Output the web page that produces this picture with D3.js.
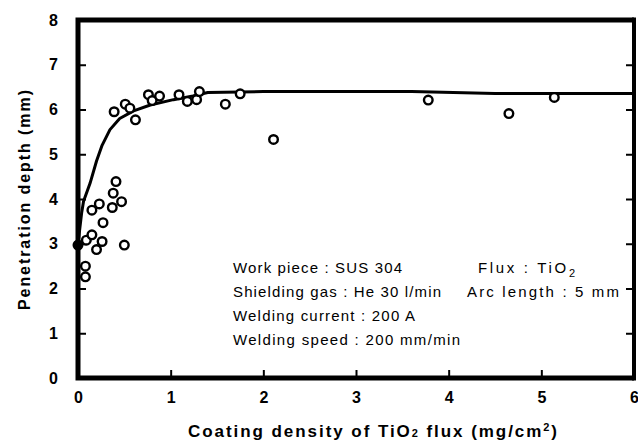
<!DOCTYPE html>
<html>
<head>
<meta charset="utf-8">
<script src="https://cdnjs.cloudflare.com/ajax/libs/d3/7.8.5/d3.min.js"></script>
<style>
  body { margin: 0; background: #fff; }
  text { font-family: Arial, "Liberation Sans", sans-serif; fill: #000; }
</style>
</head>
<body>
<svg id="chart" width="638" height="448"></svg>
<script>
// 測定点 (coating density, penetration depth)
var densityPts = [0, 0.08, 0.08, 0.09, 0.15, 0.2, 0.26, 0.5, 0.27, 0.15, 0.23, 0.37, 0.47, 0.38, 0.41,
                  0.39, 0.51, 0.56, 0.62, 0.76, 0.8, 0.88, 1.09, 1.18, 1.28, 1.31, 1.59,
                  1.75, 2.11, 3.78, 4.65, 5.14];
var depthPts = [2.97, 2.26, 2.5, 3.08, 3.2, 2.87, 3.05, 2.97, 3.47, 3.75, 3.89, 3.81, 3.94, 4.13, 4.39,
                5.95, 6.12, 6.03, 5.77, 6.33, 6.2, 6.3, 6.33, 6.18, 6.22, 6.4, 6.12,
                6.35, 5.33, 6.21, 5.91, 6.27];

// fitted curve
var curveX = [0, 0.04, 0.06, 0.13, 0.2, 0.26, 0.345, 0.45, 0.6, 0.78, 1.03, 1.24, 1.4, 2.0, 3.6, 4.5, 6.0];
var curveY = [3.0, 3.7, 3.95, 4.35, 4.85, 5.2, 5.55, 5.8, 5.97, 6.1, 6.22, 6.3, 6.38, 6.4, 6.4, 6.36, 6.36];

var xTicks = [0, 1, 2, 3, 4, 5, 6];
var yTicks = [0, 1, 2, 3, 4, 5, 6, 7, 8];

var noteLeft = ["Work piece : SUS 304", "Shielding gas : He 30 l/min", "Welding current : 200 A", "Welding speed : 200 mm/min"];
var noteLeftLen = [169, 208, 182, 227];   // widths of the lines in the original

var svg = d3.select("#chart"),
    margin = {top: 20, right: 4, bottom: 70, left: 78},
    width = +svg.attr("width") - margin.left - margin.right,
    height = +svg.attr("height") - margin.top - margin.bottom;

var x = d3.scaleLinear().domain([0, 6]).range([margin.left, margin.left + width]);
var y = d3.scaleLinear().domain([0, 8]).range([margin.top + height, margin.top]);

var points = densityPts.map((d, i) => ({x: d, y: depthPts[i]}));
var curve = curveX.map((d, i) => ({x: d, y: curveY[i]}));

// ticks (inside)
var gx = svg.append("g")
    .attr("transform", "translate(0," + (margin.top + height) + ")")
    .call(d3.axisBottom(x).tickValues(xTicks).tickSize(-8).tickPadding(11).tickFormat(d3.format("d")));
var gy = svg.append("g")
    .attr("transform", "translate(" + margin.left + ",0)")
    .call(d3.axisLeft(y).tickValues(yTicks).tickSize(-8).tickPadding(20).tickFormat(d3.format("d")));
var gr = svg.append("g")
    .attr("transform", "translate(" + (margin.left + width) + ",0)")
    .call(d3.axisRight(y).tickValues(yTicks).tickSize(-8).tickFormat(""));

[gx, gy, gr].forEach(g => {
    g.select(".domain").remove();
    g.selectAll(".tick line").attr("stroke", "#000").attr("stroke-width", 2);
    g.selectAll(".tick text")
        .style("font-size", "16px")
        .style("font-weight", "bold")
        .attr("fill", "#000");
});
gx.selectAll(".tick text").attr("dy", "0.9em");

// curve
var line = d3.line()
    .x(d => x(d.x))
    .y(d => y(d.y));

svg.append("path")
    .datum(curve)
    .attr("d", line)
    .attr("fill", "none")
    .attr("stroke", "#000")
    .attr("stroke-width", 3)
    .attr("stroke-linejoin", "round");

// data points
svg.selectAll(".pt")
    .data(points)
    .enter().append("circle")
    .attr("class", "pt")
    .attr("cx", d => x(d.x))
    .attr("cy", d => y(d.y))
    .attr("r", 4.3)
    .attr("fill", d => d.x === 0 ? "#000" : "#fff")
    .attr("stroke", "#000")
    .attr("stroke-width", 2.4);

// frame
svg.append("path")
    .attr("d", "M" + x(6) + "," + y(8) + "H" + x(0) + "V" + y(0) + "H" + x(6))
    .attr("fill", "none")
    .attr("stroke", "#000")
    .attr("stroke-width", 5);
svg.append("line")
    .attr("x1", x(6)).attr("x2", x(6))
    .attr("y1", y(8) - 2.5).attr("y2", y(0) + 2.5)
    .attr("stroke", "#000")
    .attr("stroke-width", 4);

// axis titles
svg.append("text")
    .attr("x", 188)
    .attr("y", 437)
    .attr("textLength", 369)
    .attr("lengthAdjust", "spacing")
    .style("font-size", "17px")
    .style("font-weight", "bold")
    .call(t => {
        t.append("tspan").text("Coating density of TiO");
        t.append("tspan").attr("font-size", "11px").text("2");
        t.append("tspan").text(" flux (mg/cm");
        t.append("tspan").attr("font-size", "11px").attr("dy", -6).text("2");
        t.append("tspan").attr("dy", 6).text(")");
    });

svg.append("text")
    .attr("transform", "translate(30,310) rotate(-90)")
    .attr("textLength", 220)
    .attr("lengthAdjust", "spacing")
    .style("font-size", "16px")
    .style("font-weight", "bold")
    .text("Penetration depth (mm)");

// 条件の注記
var notes = svg.append("g")
    .style("font-size", "15px");

notes.selectAll(".noteL")
    .data(noteLeft)
    .enter().append("text")
    .attr("class", "noteL")
    .attr("x", 233)
    .attr("y", (d, i) => 273 + i * 24)
    .attr("textLength", (d, i) => noteLeftLen[i])
    .attr("lengthAdjust", "spacing")
    .text(d => d);

notes.append("text")
    .attr("x", 478)
    .attr("y", 273)
    .attr("textLength", 97)
    .attr("lengthAdjust", "spacing")
    .call(t => {
        t.append("tspan").text("Flux : TiO");
        t.append("tspan").attr("font-size", "11px").attr("dy", 4).text("2");
    });
notes.append("text")
    .attr("x", 467)
    .attr("y", 297)
    .attr("textLength", 152)
    .attr("lengthAdjust", "spacing")
    .text("Arc length : 5 mm");
</script>
</body>
</html>
